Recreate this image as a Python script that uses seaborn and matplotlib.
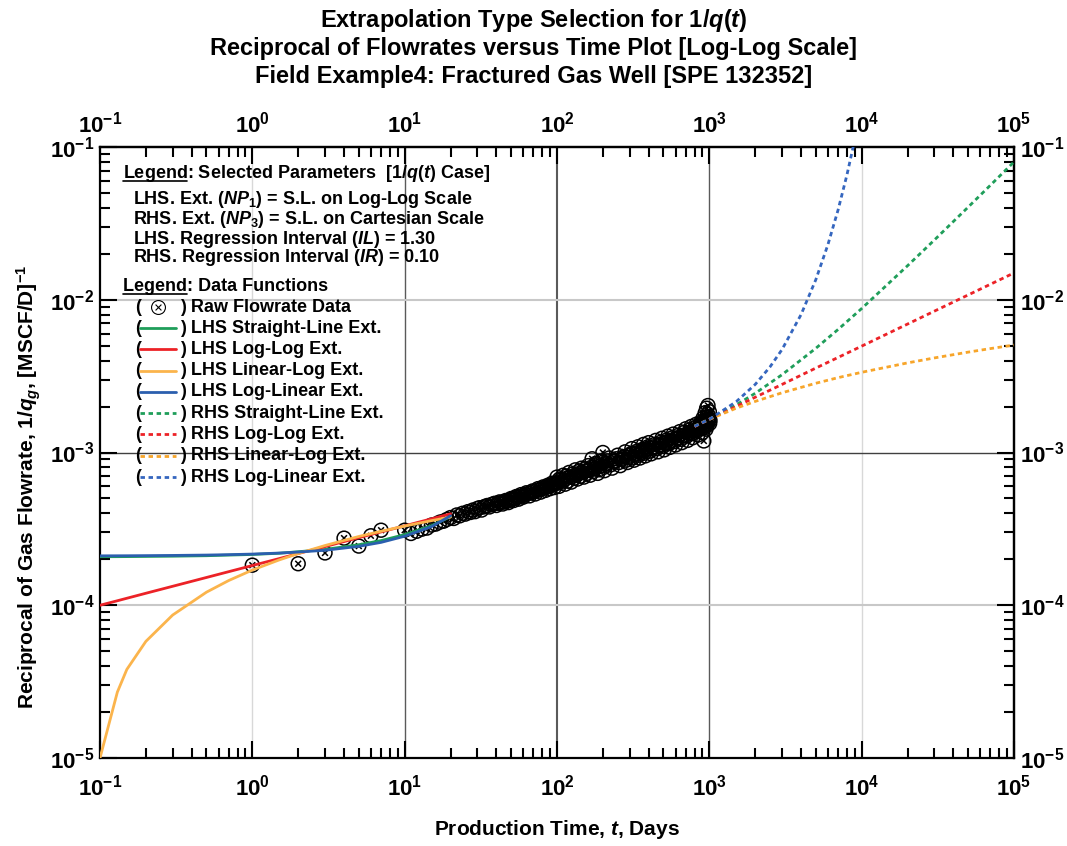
import numpy as np
import pandas as pd
import matplotlib
matplotlib.use("Agg")
import matplotlib.pyplot as plt
import matplotlib.ticker as mticker
from matplotlib.path import Path
from matplotlib.markers import MarkerStyle
from matplotlib.lines import Line2D
import seaborn as sns

# ---------------- data ----------------
raw_t = [1, 2, 3, 4, 5, 6, 7, 10,
         11, 12, 13, 14, 15, 16, 17, 18, 19, 20, 21, 22, 23, 24, 25, 26, 27, 28, 29, 30,
         32, 34, 36, 38, 40, 42, 44, 46, 48, 50, 52, 54, 56, 58, 60, 63, 66, 69, 72, 75,
         78, 81, 84, 87, 90, 93, 96,
         100, 103, 106, 110, 113, 116, 120, 124, 128, 132, 136, 140, 145, 150, 155, 160,
         165, 170, 175, 180, 185, 190, 195, 200, 205, 210, 220, 230, 240, 250, 260, 270,
         280, 290, 300, 310, 320, 330, 340, 350, 360, 370, 380, 390, 400, 415, 430, 445,
         460, 475, 490, 505, 520, 535, 550, 565, 580, 600, 620, 640, 660, 680, 700, 720,
         740, 760, 780, 800, 820, 840, 860, 880, 900, 910, 920, 930, 940, 950, 960, 970,
         980, 990, 1000, 1005, 1010,
         31, 33, 35, 37, 39, 41, 43, 45, 47, 49, 51, 53, 55, 57, 59, 62, 65, 68, 71, 74,
         77, 80, 83, 86, 89, 92, 95, 98,
         101, 104, 108, 111, 115, 118, 122, 126, 130, 134, 138, 143, 147, 152, 157, 162,
         168, 172, 178, 182, 188, 193, 198, 203, 208, 215, 225, 235, 245, 255, 265, 275,
         285, 295, 305, 315, 325, 335, 345, 355, 365, 375, 385, 395, 408, 422, 438, 452,
         468, 482, 498, 512, 528, 542, 558, 572, 590, 610, 630, 650, 670, 690, 710, 730,
         750, 770, 790, 810, 830, 850, 870, 890, 905, 915, 925, 935, 945, 955, 965, 975,
         985, 995]
raw_y = [1.83e-4, 1.87e-4, 2.2e-4, 2.75e-4, 2.44e-4, 2.85e-4, 3.1e-4, 3.1e-4,
         2.95e-4, 3.05e-4, 3.15e-4, 3.2e-4, 3.35e-4, 3.4e-4, 3.5e-4, 3.55e-4, 3.65e-4,
         3.75e-4, 3.7e-4, 3.9e-4, 3.85e-4, 4.0e-4, 3.95e-4, 4.1e-4, 4.05e-4, 4.2e-4,
         4.1e-4, 4.3e-4,
         4.2e-4, 4.45e-4, 4.4e-4, 4.6e-4, 4.5e-4, 4.75e-4, 4.6e-4, 4.85e-4, 4.7e-4,
         5.0e-4, 4.85e-4, 5.15e-4, 4.95e-4, 5.3e-4, 5.1e-4, 5.45e-4, 5.2e-4, 5.6e-4,
         5.35e-4, 5.8e-4, 5.5e-4, 5.95e-4, 5.65e-4, 6.1e-4, 5.8e-4, 6.3e-4, 5.9e-4,
         6.9e-4, 6.0e-4, 6.6e-4, 7.1e-4, 6.2e-4, 6.8e-4, 7.4e-4, 6.4e-4, 7.0e-4, 7.7e-4,
         6.7e-4, 7.3e-4, 7.9e-4, 6.9e-4, 7.6e-4, 8.2e-4, 7.1e-4, 9.1e-4, 7.8e-4, 8.5e-4,
         7.3e-4, 8.1e-4, 8.8e-4, 1.0e-3, 7.6e-4, 8.5e-4, 9.2e-4, 7.9e-4, 8.8e-4, 9.6e-4,
         8.2e-4, 9.2e-4, 1.01e-3, 8.6e-4, 9.6e-4, 1.06e-3, 8.9e-4, 9.9e-4, 1.09e-3,
         9.2e-4, 1.03e-3, 1.13e-3, 9.5e-4, 1.06e-3, 1.16e-3, 9.8e-4, 1.09e-3, 1.2e-3,
         1.01e-3, 1.13e-3, 1.24e-3, 1.04e-3, 1.17e-3, 1.28e-3, 1.08e-3, 1.2e-3, 1.32e-3,
         1.12e-3, 1.25e-3, 1.37e-3, 1.16e-3, 1.3e-3, 1.43e-3, 1.2e-3, 1.35e-3, 1.48e-3,
         1.25e-3, 1.4e-3, 1.53e-3, 1.3e-3, 1.45e-3, 1.58e-3, 1.35e-3, 1.68e-3, 1.19e-3,
         1.5e-3, 1.82e-3, 1.42e-3, 1.95e-3, 1.6e-3, 2.03e-3, 1.72e-3, 1.85e-3, 1.55e-3,
         1.62e-3,
         4.35e-4, 4.4e-4, 4.5e-4, 4.55e-4, 4.65e-4, 4.65e-4, 4.7e-4, 4.75e-4, 4.8e-4,
         4.9e-4, 4.95e-4, 5.0e-4, 5.1e-4, 5.15e-4, 5.2e-4, 5.3e-4, 5.4e-4, 5.45e-4,
         5.55e-4, 5.65e-4, 5.7e-4, 5.8e-4, 5.85e-4, 5.95e-4, 6.0e-4, 6.1e-4, 6.2e-4, 6.3e-4,
         6.3e-4, 6.7e-4, 6.4e-4, 6.6e-4, 7.0e-4, 6.5e-4, 6.9e-4, 7.2e-4, 6.8e-4, 7.1e-4,
         7.5e-4, 7.0e-4, 7.4e-4, 7.8e-4, 7.3e-4, 7.7e-4, 8.0e-4, 7.5e-4, 7.9e-4, 8.3e-4,
         7.7e-4, 8.2e-4, 8.6e-4, 8.0e-4, 8.4e-4, 8.8e-4, 8.3e-4, 8.7e-4, 9.1e-4, 8.6e-4,
         9.0e-4, 9.4e-4, 8.9e-4, 9.3e-4, 9.8e-4, 9.2e-4, 9.7e-4, 1.02e-3, 9.6e-4, 1.0e-3,
         1.05e-3, 9.9e-4, 1.04e-3, 1.09e-3, 1.02e-3, 1.07e-3, 1.13e-3, 1.06e-3, 1.11e-3,
         1.17e-3, 1.1e-3, 1.15e-3, 1.21e-3, 1.14e-3, 1.19e-3, 1.25e-3, 1.18e-3, 1.23e-3,
         1.3e-3, 1.22e-3, 1.28e-3, 1.36e-3, 1.28e-3, 1.33e-3, 1.41e-3, 1.33e-3, 1.38e-3,
         1.46e-3, 1.38e-3, 1.43e-3, 1.52e-3, 1.44e-3, 1.5e-3, 1.58e-3, 1.45e-3, 1.62e-3,
         1.52e-3, 1.7e-3, 1.5e-3, 1.78e-3, 1.6e-3, 1.66e-3]

# LHS extensions (solid), t = 0.1 ... 20 days
lhs_t = [0.1, 0.13, 0.15, 0.2, 0.3, 0.5, 0.7, 1, 1.5, 2, 3, 5, 7, 10, 15, 20]
lhs_straight = [2.078e-4, 2.08e-4, 2.082e-4, 2.087e-4, 2.095e-4, 2.11e-4, 2.13e-4, 2.15e-4,
                2.19e-4, 2.24e-4, 2.32e-4, 2.49e-4, 2.65e-4, 2.9e-4, 3.32e-4, 3.8e-4]
lhs_loglog = [1.0e-4, 1.07e-4, 1.111e-4, 1.198e-4, 1.331e-4, 1.52e-4, 1.659e-4, 1.82e-4,
              2.02e-4, 2.18e-4, 2.42e-4, 2.77e-4, 3.02e-4, 3.31e-4, 3.68e-4, 3.97e-4]
lhs_linlog = [1.0e-5, 2.7e-5, 3.8e-5, 5.8e-5, 8.63e-5, 1.218e-4, 1.452e-4, 1.7e-4,
              1.98e-4, 2.18e-4, 2.46e-4, 2.82e-4, 3.05e-4, 3.3e-4, 3.58e-4, 3.78e-4]
lhs_loglin = [2.106e-4, 2.108e-4, 2.109e-4, 2.113e-4, 2.119e-4, 2.131e-4, 2.144e-4, 2.163e-4,
              2.196e-4, 2.23e-4, 2.29e-4, 2.43e-4, 2.58e-4, 2.83e-4, 3.27e-4, 3.85e-4]

# RHS extensions (dotted), t = 800 ... 1e5 days
rhs_t = [800, 1000, 1500, 2000, 3000, 5000, 7000, 10000, 20000, 30000, 50000, 70000, 100000]
rhs_straight = [1.49e-3, 1.65e-3, 2.05e-3, 2.44e-3, 3.23e-3, 4.81e-3, 6.39e-3, 8.76e-3,
                0.0167, 0.0246, 0.0404, 0.0562, 0.0799]
rhs_loglog = [1.48e-3, 1.65e-3, 2.0e-3, 2.3e-3, 2.79e-3, 3.57e-3, 4.19e-3, 4.97e-3,
              6.93e-3, 8.42e-3, 0.01075, 0.01263, 0.01498]
rhs_linlog = [1.485e-3, 1.65e-3, 1.95e-3, 2.16e-3, 2.46e-3, 2.84e-3, 3.09e-3, 3.35e-3,
              3.86e-3, 4.16e-3, 4.54e-3, 4.79e-3, 5.05e-3]
rhs_loglin_t = [800, 1000, 1500, 2000, 2500, 3000, 4000, 5000, 6000, 7000, 8000, 9000]
rhs_loglin = [1.485e-3, 1.65e-3, 2.15e-3, 2.79e-3, 3.63e-3, 4.72e-3, 7.99e-3, 0.01353,
              0.0229, 0.0387, 0.0655, 0.111]

x_lim = (0.1, 1e5)
y_lim = (1e-5, 1e-1)
x_decades = [-1, 0, 1, 2, 3, 4, 5]
y_decades = [-5, -4, -3, -2, -1]

legend_params = [
    r"LHS. Ext. ($\mathit{NP_1}$) = S.L. on Log-Log Scale",
    r"RHS. Ext. ($\mathit{NP_3}$) = S.L. on Cartesian Scale",
    r"LHS. Regression Interval ($\mathit{IL}$) = 1.30",
    r"RHS. Regression Interval ($\mathit{IR}$) = 0.10",
]
series_labels = ["LHS Straight-Line Ext.", "LHS Log-Log Ext.", "LHS Linear-Log Ext.",
                 "LHS Log-Linear Ext.", "RHS Straight-Line Ext.", "RHS Log-Log Ext.",
                 "RHS Linear-Log Ext.", "RHS Log-Linear Ext."]
title_lines = [r"Extrapolation Type Selection for $\mathit{1/q}$($\mathit{t}$)",
               "Reciprocal of Flowrates versus Time Plot [Log-Log Scale]",
               "Field Example4: Fractured Gas Well [SPE 132352]"]

# ---------------- style ----------------
sns.set_style("ticks")
plt.rcParams["font.family"] = ["Liberation Sans", "DejaVu Sans"]
plt.rcParams["font.weight"] = "bold"
plt.rcParams["mathtext.fontset"] = "custom"
plt.rcParams["mathtext.rm"] = "Liberation Sans:bold"
plt.rcParams["mathtext.bf"] = "Liberation Sans:bold"
plt.rcParams["mathtext.it"] = "Liberation Sans:bold:italic"
plt.rcParams["mathtext.default"] = "bf"
for k in ["text.color", "axes.labelcolor", "xtick.color", "ytick.color",
          "xtick.labelcolor", "ytick.labelcolor", "axes.edgecolor"]:
    plt.rcParams[k] = "black"

GREEN = "#1f9e5a"
RED = "#ec2227"
ORANGE = "#fbb44c"
BLUE = "#2b5fae"
ORANGE_D = "#f7a52a"
BLUE_D = "#3566bf"
DOT = (0, (1.6, 1.3))

fig = plt.figure(figsize=(10.67, 8.46), dpi=100)
ax = fig.add_axes([100 / 1067, 1 - 758 / 846, 914 / 1067, 611 / 846])
ax.set_xscale("log")
ax.set_yscale("log")
ax.set_xlim(*x_lim)
ax.set_ylim(*y_lim)

# grid lines (decoration)
for xv, c, lw in [(1, "#d8d8d8", 1.0), (10, "#5a5a5a", 1.0), (100, "#5a5a5a", 1.5),
                  (1000, "#5a5a5a", 1.0), (1e4, "#d8d8d8", 1.0)]:
    ax.axvline(xv, color=c, lw=lw, zorder=0)
for yv, c, lw in [(1e-2, "#c8c8c8", 1.5), (1e-3, "#404040", 1.0), (1e-4, "#c8c8c8", 1.5)]:
    ax.axhline(yv, color=c, lw=lw, zorder=0)

# raw data marker: circle with an x inside
circ = Path.unit_circle()
xs = 0.42
xpath = Path([(-xs, -xs), (xs, xs), (-xs, xs), (xs, -xs)],
             [Path.MOVETO, Path.LINETO, Path.MOVETO, Path.LINETO])
otimes = Path.make_compound_path(circ, xpath)

raw_df = pd.DataFrame({"t": raw_t, "y": raw_y}).sort_values("t")
sns.scatterplot(data=raw_df, x="t", y="y", ax=ax, marker=MarkerStyle(otimes), s=100,
                facecolor="none", edgecolor="black", linewidth=1.1, zorder=3, legend=False)

lw = 2.0
for yv, col in [(lhs_straight, GREEN), (lhs_loglog, RED), (lhs_linlog, ORANGE), (lhs_loglin, BLUE)]:
    sns.lineplot(x=lhs_t, y=yv, ax=ax, color=col, linewidth=lw, estimator=None, sort=False,
                 zorder=4, legend=False)
for tv, yv, col in [(rhs_t, rhs_straight, GREEN), (rhs_t, rhs_loglog, RED),
                    (rhs_t, rhs_linlog, ORANGE_D), (rhs_loglin_t, rhs_loglin, BLUE_D)]:
    sns.lineplot(x=tv, y=yv, ax=ax, color=col, linewidth=lw, linestyle=DOT, estimator=None,
                 sort=False, zorder=4, legend=False)

ax.set_xlim(*x_lim)
ax.set_ylim(*y_lim)

# ---------------- axes / ticks ----------------
fmt = mticker.FuncFormatter(lambda v, p: r"$\mathbf{10^{%d}}$" % int(round(np.log10(v))))


def style_axis(axis, decades):
    major = [10.0 ** e for e in decades]
    minor = [m * 10.0 ** e for e in decades[:-1] for m in range(2, 10)]
    axis.set_major_locator(mticker.FixedLocator(major))
    axis.set_minor_locator(mticker.FixedLocator(minor))
    axis.set_major_formatter(fmt)
    axis.set_minor_formatter(mticker.NullFormatter())


style_axis(ax.xaxis, x_decades)
style_axis(ax.yaxis, y_decades)
ax.tick_params(which="both", direction="in", top=False, right=False, color="black", width=1.5)
ax.tick_params(which="major", length=12, labelsize=16)
ax.tick_params(which="minor", length=7)
ax.tick_params(axis="x", which="major", pad=12)
ax.tick_params(axis="y", which="major", pad=4)

sec_x = ax.secondary_xaxis("top")
style_axis(sec_x.xaxis, x_decades)
sec_x.tick_params(which="both", direction="in", color="black", width=1.5)
sec_x.tick_params(which="major", length=12, labelsize=16, pad=7)
sec_x.tick_params(which="minor", length=7)
sec_y = ax.secondary_yaxis("right")
style_axis(sec_y.yaxis, y_decades)
sec_y.tick_params(which="both", direction="in", color="black", width=1.5)
sec_y.tick_params(which="major", length=12, labelsize=16, pad=4)
sec_y.tick_params(which="minor", length=7)

for a in (ax, sec_x, sec_y):
    for sp in a.spines.values():
        sp.set_linewidth(1.6)
        sp.set_color("black")

ax.set_xlabel(r"Production Time, $\mathit{t}$, Days", fontsize=15, fontweight="bold")
ax.xaxis.set_label_coords(0.5, -0.098)
ax.set_ylabel(r"Reciprocal of Gas Flowrate, $\mathit{1/q_g}$, [MSCF/D]$^{-1}$",
              fontsize=15, fontweight="bold")
ax.yaxis.set_label_coords(-0.062, 0.444)

# ---------------- titles ----------------
for line, yp in zip(title_lines, [20, 48, 76]):
    fig.text(0.5, 1 - yp / 846, line, ha="center", va="center", fontsize=17, fontweight="bold")

# ---------------- custom legend ----------------
def px(xp, yp):
    return (xp - 100) / 914, 1 - (yp - 147) / 611

FS = 13
header_texts = []
for yp, s in [(178, r"Legend: Selected Parameters  [$\mathit{1/q}$($\mathit{t}$) Case]"),
              (291, "Legend: Data Functions")]:
    x0, y0 = px(123, yp)
    ax.text(x0, y0, s, transform=ax.transAxes, fontsize=FS, va="baseline", ha="left", zorder=6)
    header_texts.append((x0, y0))

for s, yp in zip(legend_params, [199, 220, 239, 258]):
    x0, y0 = px(133, yp)
    ax.text(x0, y0, s, transform=ax.transAxes, fontsize=FS, va="center", ha="left", zorder=6)

row_y = [307 + 21.25 * i for i in range(9)]
handles = [dict(kind="marker")] + \
          [dict(kind="line", color=c, ls="-") for c in (GREEN, RED, ORANGE, BLUE)] + \
          [dict(kind="line", color=c, ls=DOT) for c in (GREEN, RED, ORANGE_D, BLUE_D)]
labels = ["Raw Flowrate Data"] + series_labels
for yp, h, lab in zip(row_y, handles, labels):
    xa, ya = px(135, yp)
    ax.text(xa, ya, "(", transform=ax.transAxes, fontsize=FS, va="center", ha="left", zorder=6)
    xb, _ = px(180, yp)
    ax.text(xb, ya, ") " + lab, transform=ax.transAxes, fontsize=FS, va="center", ha="left",
            zorder=6)
    if h["kind"] == "marker":
        xm, _ = px(158, yp)
        ax.add_line(Line2D([xm], [ya], transform=ax.transAxes, marker=MarkerStyle(otimes),
                           markersize=10, markerfacecolor="white", markeredgecolor="black",
                           markeredgewidth=0.8, linestyle="none", zorder=6))
    else:
        x1, _ = px(140, yp)
        x2, _ = px(176, yp)
        ax.add_line(Line2D([x1, x2], [ya, ya], transform=ax.transAxes, color=h["color"],
                           linestyle=h["ls"], linewidth=2.0, zorder=6))

# underline the word "Legend" in both headers
fig.canvas.draw()
r = fig.canvas.get_renderer()
inv = ax.transAxes.inverted()
for (x0, y0) in header_texts:
    tmp = ax.text(x0, y0, "Legend", transform=ax.transAxes, fontsize=FS, va="baseline",
                  ha="left")
    bb = tmp.get_window_extent(r)
    tmp.remove()
    _, by = ax.transAxes.transform((x0, y0))
    (ax0, ay0) = inv.transform((bb.x0, by - 3))
    (ax1, _) = inv.transform((bb.x1, by - 3))
    ax.add_line(Line2D([ax0, ax1], [ay0, ay0], transform=ax.transAxes, color="black",
                       linewidth=1.2, zorder=6))

fig.savefig("out.png", dpi=100)
